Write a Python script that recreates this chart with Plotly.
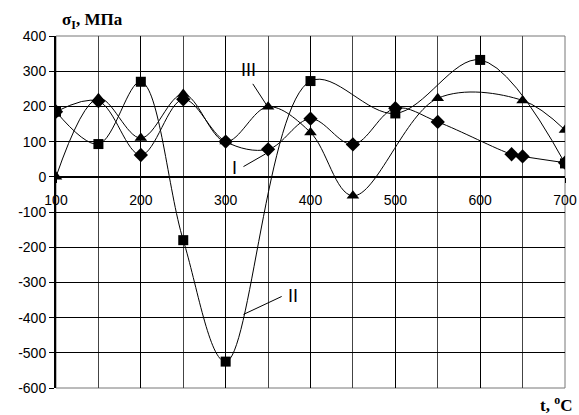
import plotly.graph_objects as go

# Series I (diamonds)
x1 = [100, 150, 200, 250, 300, 350, 400, 450, 500, 550, 637, 650, 700]
y1 = [185, 215, 62, 220, 100, 78, 165, 92, 195, 156, 64, 58, 40]
# Series II (squares)
x2 = [100, 150, 200, 250, 300, 400, 500, 600, 700]
y2 = [185, 93, 270, -180, -525, 272, 180, 332, 38]
# Series III (triangles)
x3 = [100, 150, 200, 250, 300, 350, 400, 450, 550, 650, 700]
y3 = [0, 223, 110, 235, 100, 199, 126, -54, 223, 217, 133]

x_ticks = [100, 200, 300, 400, 500, 600, 700]
y_ticks = [-600, -500, -400, -300, -200, -100, 0, 100, 200, 300, 400]

fig = go.Figure()
line = dict(color="black", width=1, shape="spline", smoothing=1)
fig.add_trace(go.Scatter(x=x2, y=y2, mode="lines+markers", line=line,
                         marker=dict(symbol="square", size=10, color="black")))
fig.add_trace(go.Scatter(x=x3, y=y3, mode="lines+markers", line=line,
                         marker=dict(symbol="triangle-up", size=11, color="black")))
fig.add_trace(go.Scatter(x=x1, y=y1, mode="lines+markers", line=line,
                         marker=dict(symbol="diamond", size=11, color="black")))

tickfont = dict(family="Liberation Sans, Arial", size=14, color="black")
labfont = dict(family="Liberation Sans, Arial", size=18, color="black")
fig.update_layout(
    width=579, height=415,
    margin=dict(l=56, r=14, t=36, b=27, autoexpand=False),
    paper_bgcolor="white", plot_bgcolor="white",
    showlegend=False,
    xaxis=dict(range=[100, 700], tickvals=x_ticks, ticktext=[str(v) for v in x_ticks],
               anchor="free", position=0.6, showline=True, linecolor="black", linewidth=2,
               ticks="outside", ticklen=5, tickcolor="black", tickfont=tickfont,
               ticklabelstandoff=5,
               showgrid=True, gridcolor="#000", gridwidth=1, zeroline=False,
               minor=dict(tickvals=[150, 250, 350, 450, 550, 650], showgrid=True,
                          gridcolor="#444", gridwidth=1)),
    yaxis=dict(range=[-600, 400], tickvals=y_ticks, ticktext=[str(v) for v in y_ticks],
               showline=True, linecolor="black", linewidth=2, ticks="outside",
               ticklen=5, tickcolor="black", tickfont=tickfont,
               showgrid=True, gridcolor="#000", gridwidth=1, zeroline=False),
    shapes=[
        dict(type="rect", xref="paper", yref="paper", x0=0, x1=1, y0=0, y1=1,
             line=dict(color="#777", width=1), layer="below"),
        dict(type="line", x0=332, y0=264, x1=349, y1=201, line=dict(color="black", width=1)),
        dict(type="line", x0=321, y0=29, x1=347, y1=65, line=dict(color="black", width=1)),
        dict(type="line", x0=366, y0=-340, x1=321, y1=-391, line=dict(color="black", width=1)),
    ],
    annotations=[
        dict(x=60, y=21, xref="paper", yref="paper", xanchor="left", yanchor="middle",
             showarrow=False, text="<b>σ<sub>I</sub>, МПа</b>",
             font=dict(family="Liberation Serif, Times New Roman", size=17, color="black")),
        dict(x=574, y=404, xref="paper", yref="paper", xanchor="right", yanchor="middle",
             showarrow=False, text="<b>t, <sup>o</sup>C</b>",
             font=dict(family="Liberation Serif, Times New Roman", size=17, color="black")),
        dict(x=327, y=303, showarrow=False, text="III", font=labfont),
        dict(x=310, y=25, showarrow=False, text="I", font=labfont),
        dict(x=379, y=-340, showarrow=False, text="II", font=labfont),
    ],
)
# convert pixel positions of the two axis titles into paper fractions
W, H = 579, 415
L, R, T, B = 56, 14, 36, 27
pw, ph = W - L - R, H - T - B
for a in fig.layout.annotations[:2]:
    a.x = (a.x - L) / pw
    a.y = 1 - (a.y - T) / ph
fig.write_html("out.html")
